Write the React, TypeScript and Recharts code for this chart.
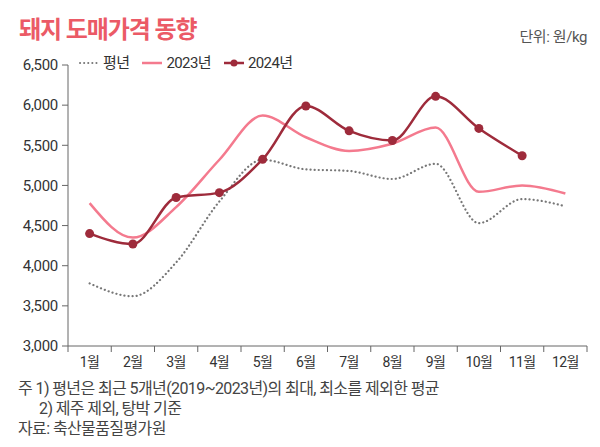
import React from 'react';
import { LineChart, Line, XAxis, YAxis } from 'recharts';

const months = ['1월', '2월', '3월', '4월', '5월', '6월', '7월', '8월', '9월', '10월', '11월', '12월'];
const normalPrices = [3780, 3620, 4040, 4800, 5320, 5200, 5180, 5080, 5270, 4530, 4830, 4740];
const prices2023 = [4780, 4350, 4730, 5320, 5870, 5600, 5430, 5520, 5720, 4920, 5000, 4900];
const prices2024 = [4400, 4270, 4850, 4910, 5325, 5990, 5680, 5560, 6110, 5710, 5370, null];
const yTicks = [3000, 3500, 4000, 4500, 5000, 5500, 6000, 6500];

const data = months.map((m, i) => ({
    month: m,
    normal: normalPrices[i],
    y2023: prices2023[i],
    y2024: prices2024[i],
}));

const FONT = "Roboto, 'Noto Sans CJK KR', sans-serif";
const AXIS = '#666';
const C_NORMAL = '#777';
const C_2023 = '#f47a8e';
const C_2024 = '#9e2b3b';

const CHART_W = 600;
const Y_AXIS_W = 68;
const RIGHT = 13;
// half of one month band, so points sit in the middle of each band
const HALF_BAND = (CHART_W - Y_AXIS_W - RIGHT) / months.length / 2;

// month label centered in its band, tick marks on band edges
function MonthTick(props: any) {
    const { x, y, payload, index } = props;
    const last = index === months.length - 1;
    return (
        <g>
            <line x1={x - HALF_BAND} y1={y} x2={x - HALF_BAND} y2={y + 6} stroke={AXIS} strokeWidth={1} />
            {last && <line x1={x + HALF_BAND} y1={y} x2={x + HALF_BAND} y2={y + 6} stroke={AXIS} strokeWidth={1} />}
            <text x={x} y={y + 21} textAnchor="middle" fill="#333" fontSize={14} fontFamily={FONT} letterSpacing={-0.6}>
                {payload.value}
            </text>
        </g>
    );
}

function LegendItem({ kind, label }: { kind: 'normal' | '2023' | '2024'; label: string }) {
    return (
        <span style={{ display: 'inline-flex', alignItems: 'center', marginRight: 12 }}>
            <svg width={22} height={10} style={{ marginRight: 3 }}>
                {kind === 'normal' && (
                    <line x1={2} y1={5} x2={20} y2={5} stroke={C_NORMAL} strokeWidth={2} strokeDasharray="0.1 4" strokeLinecap="round" />
                )}
                {kind === '2023' && <line x1={1} y1={5} x2={21} y2={5} stroke={C_2023} strokeWidth={2.5} />}
                {kind === '2024' && (
                    <>
                        <line x1={1} y1={5} x2={21} y2={5} stroke={C_2024} strokeWidth={2.5} />
                        <circle cx={11} cy={5} r={3.5} fill={C_2024} />
                    </>
                )}
            </svg>
            <span>{label}</span>
        </span>
    );
}

export default function App() {
    return (
        <div style={{ position: 'absolute', left: 0, top: 0, width: 600, height: 447, background: '#fff', fontFamily: FONT }}>
            <div style={{ position: 'absolute', left: 19, top: 16, fontSize: 24, fontWeight: 700, color: '#eb5a66', letterSpacing: -1.1, lineHeight: '28px', whiteSpace: 'nowrap' }}>
                돼지 도매가격 동향
            </div>
            <div style={{ position: 'absolute', right: 13, top: 27, fontSize: 15, color: '#555', letterSpacing: -0.4, lineHeight: '20px' }}>
                단위: 원/kg
            </div>
            <div style={{ position: 'absolute', left: 78, top: 53, fontSize: 15, color: '#333', letterSpacing: -0.6, lineHeight: '20px', display: 'flex', whiteSpace: 'nowrap' }}>
                <LegendItem kind="normal" label="평년" />
                <LegendItem kind="2023" label="2023년" />
                <LegendItem kind="2024" label="2024년" />
            </div>

            <div style={{ position: 'absolute', left: 0, top: 0 }}>
                <LineChart width={CHART_W} height={380} data={data} margin={{ top: 65, right: RIGHT, left: 0, bottom: 4 }}>
                    <XAxis
                        dataKey="month"
                        stroke={AXIS}
                        axisLine={{ stroke: AXIS }}
                        tickLine={false}
                        tickSize={0}
                        tickMargin={0}
                        interval={0}
                        height={30}
                        padding={{ left: HALF_BAND, right: HALF_BAND }}
                        tick={<MonthTick />}
                    />
                    <YAxis
                        domain={[3000, 6500]}
                        ticks={yTicks}
                        interval={0}
                        width={Y_AXIS_W}
                        axisLine={{ stroke: AXIS }}
                        tickLine={{ stroke: AXIS }}
                        tickSize={6}
                        tickMargin={4}
                        tickFormatter={(v: number) => v.toLocaleString('en-US')}
                        tick={{ fill: '#333', fontSize: 15, fontFamily: FONT, letterSpacing: -0.3 }}
                    />
                    <Line
                        type="monotone"
                        dataKey="normal"
                        stroke={C_NORMAL}
                        strokeWidth={2.2}
                        strokeDasharray="0.1 4"
                        strokeLinecap="round"
                        dot={false}
                        activeDot={false}
                        isAnimationActive={false}
                    />
                    <Line
                        type="monotone"
                        dataKey="y2023"
                        stroke={C_2023}
                        strokeWidth={2.5}
                        dot={false}
                        activeDot={false}
                        isAnimationActive={false}
                    />
                    <Line
                        type="monotone"
                        dataKey="y2024"
                        stroke={C_2024}
                        strokeWidth={2.5}
                        dot={{ r: 4.5, fill: C_2024, stroke: C_2024, strokeWidth: 0 }}
                        activeDot={false}
                        isAnimationActive={false}
                    />
                </LineChart>
            </div>

            <div style={{ position: 'absolute', left: 18, top: 379, fontSize: 16, color: '#444', letterSpacing: -0.6, lineHeight: '20px', whiteSpace: 'nowrap' }}>
                <div>주 1) 평년은 최근 5개년(2019~2023년)의 최대, 최소를 제외한 평균</div>
                <div style={{ paddingLeft: 21 }}>2) 제주 제외, 탕박 기준</div>
                <div>자료: 축산물품질평가원</div>
            </div>
        </div>
    );
}
